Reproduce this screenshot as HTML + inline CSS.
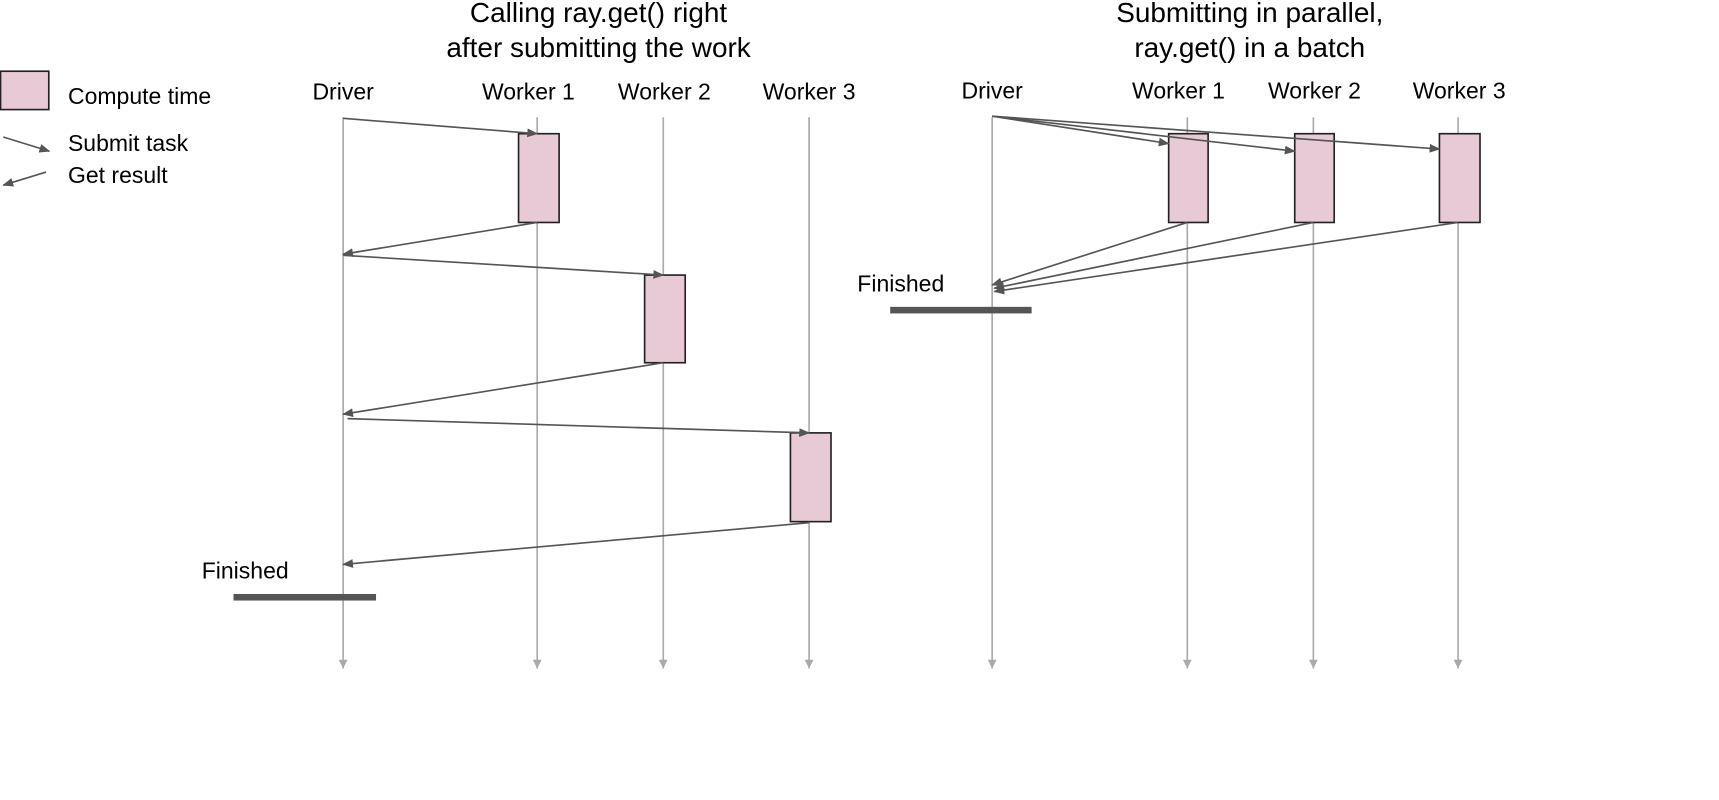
<!DOCTYPE html>
<html><head><meta charset="utf-8"><style>html,body{margin:0;padding:0;background:#fff}svg{display:block}text{font-family:"Liberation Sans",sans-serif;fill:#000}</style></head><body>
<svg width="1719" height="800" viewBox="0 0 1568 730" preserveAspectRatio="none" xmlns="http://www.w3.org/2000/svg">
<defs>
<marker id="a" markerWidth="10" markerHeight="8" refX="9" refY="4" orient="auto" markerUnits="userSpaceOnUse"><path d="M0,0 L10,4 L0,8 z" fill="#555"/></marker>
<marker id="g" markerWidth="8" markerHeight="8" refX="8" refY="4" orient="auto" markerUnits="userSpaceOnUse"><path d="M0,0 L8,4 L0,8 z" fill="#aaa"/></marker>
</defs>
<g font-size="25.5" text-anchor="middle">
<text x="546" y="20">Calling ray.get() right</text><text x="546" y="52">after submitting the work</text>
<text x="1140" y="20">Submitting in parallel,</text><text x="1140" y="52">ray.get() in a batch</text>
</g>
<rect x="0.5" y="65" width="44" height="35" fill="#e8cad7" stroke="#222" stroke-width="1.5"/>
<g font-size="21">
<text x="62" y="95">Compute time</text><text x="62" y="138">Submit task</text><text x="62" y="167">Get result</text>
</g>
<line x1="3" y1="125" x2="45" y2="138" stroke="#555" stroke-width="1.5" marker-end="url(#a)"/>
<line x1="42" y1="157" x2="3" y2="169" stroke="#555" stroke-width="1.5" marker-end="url(#a)"/>
<g font-size="21" text-anchor="middle">
<text x="313" y="91">Driver</text><text x="482" y="91">Worker 1</text><text x="606" y="91">Worker 2</text><text x="738" y="91">Worker 3</text>
<text x="905" y="90">Driver</text><text x="1075" y="90">Worker 1</text><text x="1199" y="90">Worker 2</text><text x="1331" y="90">Worker 3</text>
</g>
<g stroke="#aaa" stroke-width="1.5" marker-end="url(#g)">
<line x1="313" y1="107" x2="313" y2="610"/><line x1="490" y1="107" x2="490" y2="610"/><line x1="605" y1="107" x2="605" y2="610"/><line x1="738" y1="107" x2="738" y2="610"/>
<line x1="905" y1="107" x2="905" y2="610"/><line x1="1083" y1="107" x2="1083" y2="610"/><line x1="1198" y1="107" x2="1198" y2="610"/><line x1="1330" y1="107" x2="1330" y2="610"/>
</g>
<g fill="#e8cad7" stroke="#222" stroke-width="1.5">
<rect x="473" y="122" width="37" height="81"/><rect x="588" y="251" width="37" height="80"/><rect x="721" y="395" width="37" height="81"/>
<rect x="1066" y="122" width="36" height="81"/><rect x="1181" y="122" width="36" height="81"/><rect x="1313" y="122" width="37" height="81"/>
</g>
<g stroke="#555" stroke-width="1.5" marker-end="url(#a)">
<line x1="313" y1="108" x2="490" y2="122"/><line x1="490" y1="203" x2="313" y2="232"/>
<line x1="313" y1="233" x2="605" y2="251"/><line x1="605" y1="331" x2="313" y2="378"/>
<line x1="317" y1="382" x2="738" y2="395"/><line x1="738" y1="477" x2="313" y2="515"/>
<line x1="905" y1="106" x2="1066" y2="131"/><line x1="905" y1="106" x2="1181" y2="138"/><line x1="905" y1="106" x2="1313" y2="136"/>
<line x1="1083" y1="203" x2="905" y2="260"/><line x1="1198" y1="203" x2="907" y2="263"/><line x1="1330" y1="203" x2="907" y2="266"/>
</g>
<g font-size="21"><text x="184" y="528">Finished</text><text x="782" y="266">Finished</text></g>
<rect x="213" y="542" width="130" height="6" fill="#555"/>
<rect x="812" y="280" width="129" height="6" fill="#555"/>
</svg>
</body></html>
